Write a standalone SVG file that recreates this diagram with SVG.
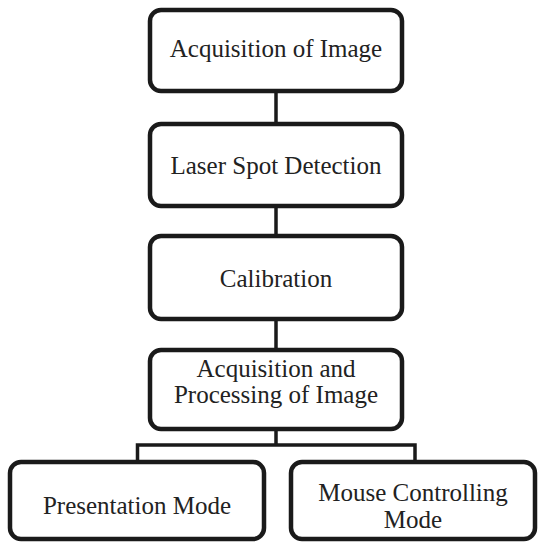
<svg xmlns="http://www.w3.org/2000/svg" width="539" height="542" viewBox="0 0 539 542">
<style>
.box{fill:#fff;stroke:#1a1a1a;stroke-width:4.5}
.con{fill:none;stroke:#1a1a1a;stroke-width:3.5}
text{font-family:"Liberation Serif","Times New Roman",serif;font-size:25px;fill:#222;text-anchor:middle}
</style>
<rect width="539" height="542" fill="#fff"/>
<g id="connectors">
<path class="con" d="M276 91V124M276 206V236M276 319V350M276 429V445M137.5 462V445H415V462"/>
</g>
<g id="n1"><rect class="box" x="150" y="10" width="252" height="81" rx="11"/><text x="276" y="57">Acquisition of Image</text></g>
<g id="n2"><rect class="box" x="150" y="124" width="252" height="82" rx="11"/><text x="276" y="174">Laser Spot Detection</text></g>
<g id="n3"><rect class="box" x="150" y="236" width="252" height="83" rx="11"/><text x="276" y="287">Calibration</text></g>
<g id="n4"><rect class="box" x="150" y="350" width="252" height="79" rx="11"/><text x="276" y="377">Acquisition and</text><text x="276" y="403">Processing of Image</text></g>
<g id="n5"><rect class="box" x="10" y="462" width="254" height="77" rx="11"/><text x="137" y="514">Presentation Mode</text></g>
<g id="n6"><rect class="box" x="291" y="462" width="244" height="77" rx="11"/><text x="413" y="501">Mouse Controlling</text><text x="413" y="528">Mode</text></g>
</svg>
